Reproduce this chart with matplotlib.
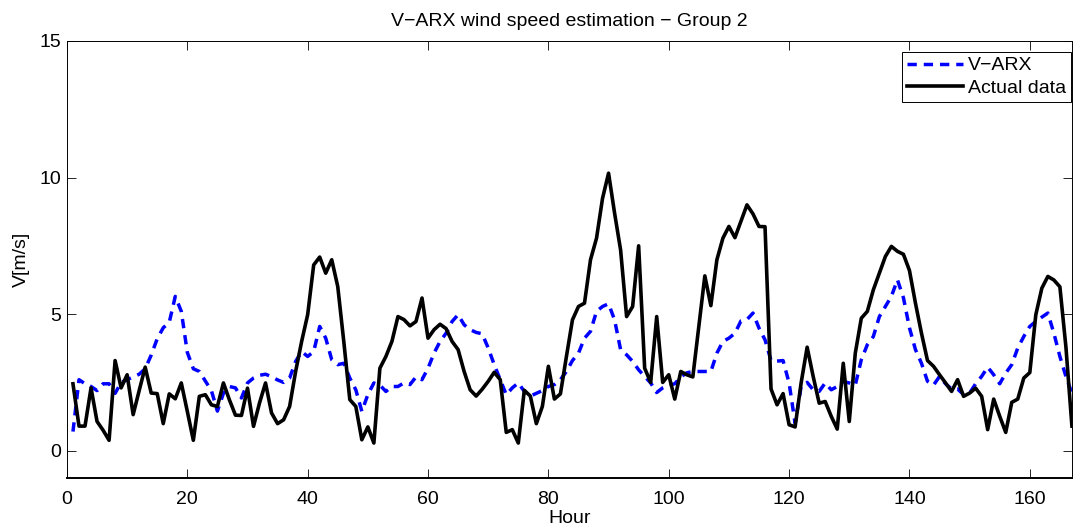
import matplotlib
matplotlib.use("Agg")
from matplotlib import pyplot as plt

plt.rcParams['font.family'] = ['Liberation Sans', 'DejaVu Sans']
plt.rcParams['lines.scale_dashes'] = False

hours = list(range(1, 168))

# V-ARX estimate (blue dashed)
v_arx = [0.7, 2.6, 2.45, 2.35, 2.2, 2.45, 2.45, 2.1, 2.5, 2.6,
         2.7, 2.8, 3.0, 3.5, 4.1, 4.5, 4.7, 5.65, 5.1, 3.6,
         3.0, 2.9, 2.55, 2.2, 1.45, 2.1, 2.35, 2.3, 1.93, 2.48,
         2.66, 2.76, 2.8, 2.71, 2.59, 2.5, 2.66, 3.27, 3.63, 3.45,
         3.63, 4.55, 4.12, 3.33, 3.15, 3.2, 2.66, 2.23, 1.44, 2.05,
         2.48, 2.4, 2.17, 2.35, 2.35, 2.48, 2.42, 2.7, 2.6, 3.02,
         3.57, 4.0, 4.3, 4.73, 4.98, 4.61, 4.43, 4.33, 4.28, 3.76,
         3.15, 2.6, 2.05, 2.3, 2.48, 2.17, 2.0, 2.1, 2.2, 2.35,
         2.42, 2.6, 2.9, 3.3, 3.57, 4.12, 4.37, 5.1, 5.28, 5.38,
         4.79, 3.7, 3.51, 3.27, 2.96, 2.72, 2.48, 2.13, 2.3, 2.4,
         2.45, 2.7, 2.85, 2.9, 2.9, 2.9, 2.9, 3.57, 4.0, 4.12,
         4.3, 4.75, 4.8, 5.04, 4.49, 4.06, 3.3, 3.28, 3.3, 2.48,
         1.0, 2.35, 2.5, 2.23, 2.17, 2.48, 2.23, 2.35, 2.53, 2.48,
         2.4, 3.33, 3.88, 4.18, 4.91, 5.28, 5.65, 6.26, 5.6, 4.5,
         3.7, 3.2, 2.54, 2.4, 2.72, 2.45, 2.26, 2.26, 2.05, 2.11,
         2.45, 2.72, 3.06, 2.78, 2.45, 2.84, 3.15, 3.76, 4.18, 4.55,
         4.73, 4.89, 5.04, 4.3, 3.45, 2.72, 2.1]

# measured wind speed (black solid)
actual = [2.45, 0.9, 0.9, 2.3, 1.07, 0.75, 0.38, 3.3, 2.3, 2.78,
          1.32, 2.2, 3.06, 2.11, 2.09, 0.99, 2.08, 1.9, 2.48, 1.44,
          0.38, 1.99, 2.05, 1.68, 1.62, 2.48, 1.86, 1.3, 1.29, 2.29,
          0.89, 1.75, 2.48, 1.38, 0.99, 1.13, 1.62, 2.9, 4.0, 4.98,
          6.8, 7.09, 6.5, 6.99, 6.01, 4.0, 1.87, 1.62, 0.4, 0.87,
          0.28, 3.02, 3.45, 4.0, 4.91, 4.8, 4.57, 4.73, 5.59, 4.12,
          4.43, 4.63, 4.47, 4.0, 3.7, 2.9, 2.23, 2.0, 2.25, 2.54,
          2.87, 2.6, 0.67, 0.77, 0.28, 2.21, 2.0, 0.99, 1.62, 3.09,
          1.89, 2.08, 3.45, 4.79, 5.28, 5.4, 6.99, 7.78, 9.24, 10.16,
          8.7, 7.35, 4.91, 5.28, 7.5, 3.02, 2.5, 4.91, 2.5, 2.78,
          1.89, 2.9, 2.78, 2.7, 4.55, 6.4, 5.31, 6.99, 7.78, 8.21,
          7.8, 8.4, 9.0, 8.67, 8.21, 8.2, 2.26, 1.68, 2.09, 0.95,
          0.87, 2.48, 3.79, 2.72, 1.74, 1.8, 1.26, 0.79, 3.2, 1.07,
          3.57, 4.85, 5.1, 5.89, 6.5, 7.11, 7.48, 7.3, 7.19, 6.6,
          5.4, 4.3, 3.3, 3.09, 2.78, 2.48, 2.17, 2.6, 1.99, 2.11,
          2.29, 1.99, 0.77, 1.89, 1.26, 0.67, 1.77, 1.89, 2.66, 2.86,
          4.98, 5.95, 6.38, 6.25, 6.0, 3.8, 0.9]

fig = plt.figure(figsize=(10.73, 5.29), dpi=100)
ax = fig.add_axes([0.0624, 0.0964, 0.9366, 0.8261])

ax.plot(hours, v_arx, color=(0, 0, 1), lw=2.5, dashes=(6.7, 5.0), label="V\u2212ARX")
ax.plot(hours, actual, color="black", lw=2.6, label="Actual data")

ax.set_xlim(0, 167)
ax.set_ylim(-1, 15)
ax.set_xticks(range(0, 161, 20))
ax.set_yticks([0, 5, 10, 15])
ax.tick_params(direction="in", top=True, right=True, length=6.5, width=0.6,
               labelsize=14)
ax.tick_params(axis="x", pad=9)
ax.tick_params(axis="y", pad=4)
for s in ax.spines.values():
    s.set_linewidth(0.7)
ax.spines['bottom'].set_linewidth(1.4)

ax.set_xlabel("Hour", fontsize=14, labelpad=2)
ax.set_ylabel("V[m/s]", fontsize=14, labelpad=7)
ax.set_title("V\u2212ARX wind speed estimation \u2212 Group 2", fontsize=14, pad=11)

leg = ax.legend(loc="upper right", bbox_to_anchor=(0.999, 0.975), fontsize=14,
                fancybox=False, framealpha=1, edgecolor="black", borderaxespad=0,
                handlelength=2.9, borderpad=0.25, labelspacing=0.25,
                handletextpad=0.25)
leg.get_frame().set_linewidth(0.7)

fig.savefig("out.png", dpi=100)
